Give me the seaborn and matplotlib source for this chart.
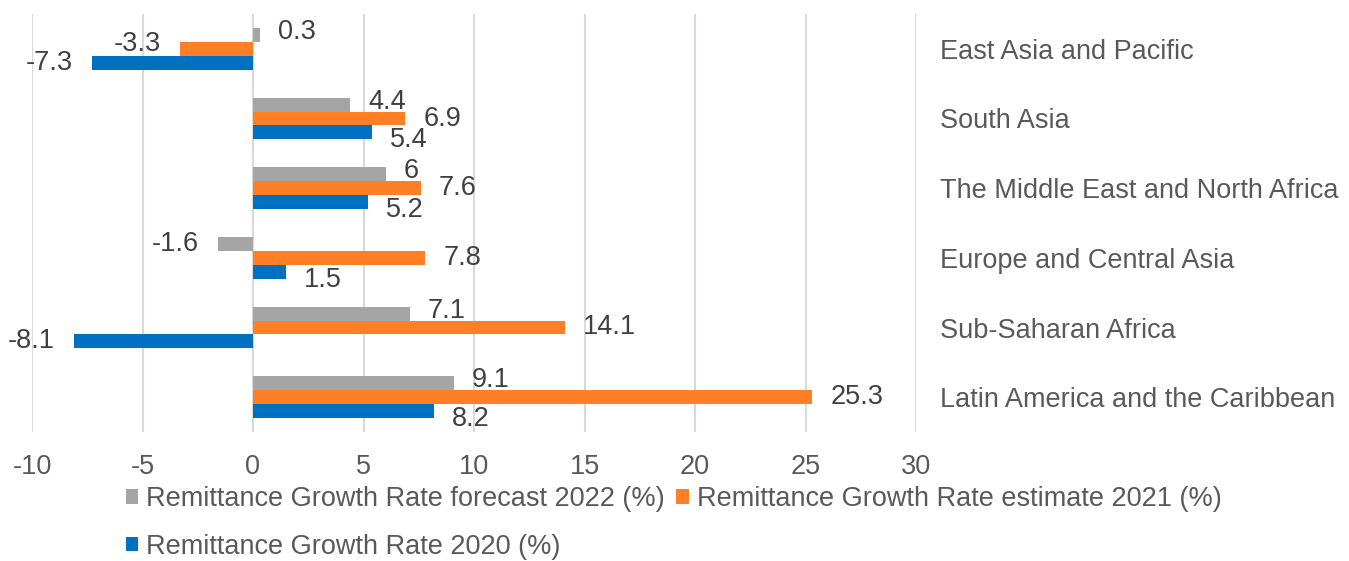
import matplotlib
matplotlib.use("Agg")
import matplotlib.pyplot as plt
import seaborn as sns
import pandas as pd

regions = ["East Asia and Pacific", "South Asia", "The Middle East and North Africa",
           "Europe and Central Asia", "Sub-Saharan Africa", "Latin America and the Caribbean"]
series_names = ["Remittance Growth Rate forecast 2022 (%)",
                "Remittance Growth Rate estimate 2021 (%)",
                "Remittance Growth Rate 2020 (%)"]
forecast_2022 = [0.3, 4.4, 6, -1.6, 7.1, 9.1]
estimate_2021 = [-3.3, 6.9, 7.6, 7.8, 14.1, 25.3]
rate_2020 = [-7.3, 5.4, 5.2, 1.5, -8.1, 8.2]
x_ticks = [-10, -5, 0, 5, 10, 15, 20, 25, 30]
colors = ["#A5A5A5", "#FF7F27", "#0070C0"]

rows = []
for name, vals in zip(series_names, [forecast_2022, estimate_2021, rate_2020]):
    for r, v in zip(regions, vals):
        rows.append({"region": r, "series": name, "value": v})
df = pd.DataFrame(rows)

sns.set_theme(style="white")
plt.rcParams["font.family"] = ["Liberation Sans", "DejaVu Sans"]
FS = 19.5
TXT = "#595959"

fig = plt.figure(figsize=(13.49, 5.61), dpi=100)
W, H = 1349, 561
ax = fig.add_axes([32 / W, 1 - 432 / H, (916 - 32) / W, (432 - 14) / H])

sns.barplot(data=df, y="region", x="value", hue="series", order=regions,
            hue_order=series_names, palette=colors, orient="h", width=0.6,
            gap=0, saturation=1, linewidth=0, ax=ax, legend=True)

ax.set_xlim(-10, 30)
ax.set_xticks(x_ticks)
ax.set_xticklabels([str(t) for t in x_ticks])
ax.grid(axis="x", color="#D9D9D9", linewidth=1.5)
ax.set_axisbelow(True)
for s in ax.spines.values():
    s.set_visible(False)
ax.set_xlabel("")
ax.set_ylabel("")
ax.yaxis.tick_right()
ax.tick_params(axis="y", length=0, pad=17, labelsize=FS, labelcolor=TXT)
ax.tick_params(axis="x", length=0, pad=16, labelsize=FS, labelcolor=TXT)
for lab in ax.get_yticklabels():
    lab.set_horizontalalignment("left")

# data labels
for si, cont in enumerate(ax.containers):
    for bar in cont:
        value = bar.get_x() + bar.get_width()
        yc = bar.get_y() + bar.get_height() / 2
        if value >= 0:
            dx, ha = 18, "left"
            dy = {0: 3, 1: 0, 2: -8}[si]
        else:
            dx, ha = -19, "right"
            dy = {0: 0, 1: 5, 2: 0}[si]
        ax.annotate(f"{value:g}", (value, yc), xytext=(dx, dy),
                    textcoords="offset pixels", ha=ha, va="center",
                    fontsize=FS, color="#404040")

leg = ax.get_legend()
handles = leg.legend_handles
labels = [t.get_text() for t in leg.get_texts()]
leg.remove()
order = [0, 2, 1]
fig.legend([handles[i] for i in order], [labels[i] for i in order],
           loc="upper left", bbox_to_anchor=(126 / W, 1 - 486 / H), ncol=2,
           frameon=False, fontsize=FS, labelcolor=TXT, handlelength=0.45,
           handleheight=0.45, handletextpad=0.3, columnspacing=0.42,
           labelspacing=0.8, borderpad=0, borderaxespad=0)

fig.savefig("out.png", dpi=100)
